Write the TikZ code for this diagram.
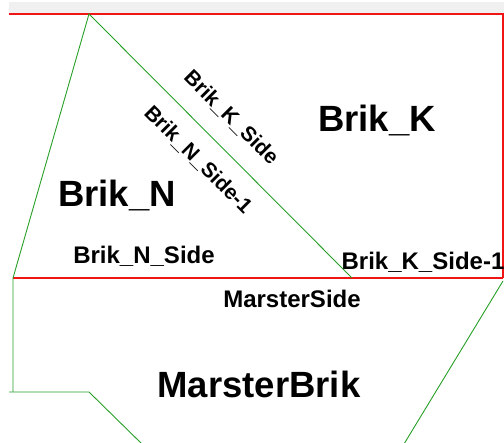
\documentclass[tikz,border=0pt]{standalone}
\usepackage{fontspec}
\setmainfont{Liberation Sans}
\definecolor{redline}{RGB}{240,20,20}
\definecolor{greenline}{RGB}{40,160,40}
\definecolor{band}{RGB}{240,240,240}
\begin{document}
\begin{tikzpicture}[x=1pt,y=-1pt,
  redl/.style={draw=redline,line width=1.4pt},
  greenl/.style={draw=greenline,line width=0.9pt},
  bigl/.style={font=\fontsize{36.5}{40}\selectfont\bfseries,inner sep=0pt},
  smalll/.style={font=\fontsize{24}{26}\selectfont\bfseries,inner sep=0pt},
  rotl/.style={font=\fontsize{21}{24}\selectfont\bfseries,inner sep=0pt,rotate=-45}]
\useasboundingbox (0,0) rectangle (504,443);
\fill[white] (0,0) rectangle (504,443);
\fill[band] (9,2) rectangle (504,13.5);
% coordinates
\coordinate (tl) at (9,14);
\coordinate (tr) at (504,14);
\coordinate (rr) at (503,14);
\coordinate (rb) at (503,278);
\coordinate (bl) at (13,278);
\coordinate (apex) at (89,14);
\coordinate (mid) at (352,278);
\coordinate (lv) at (13,392);
\coordinate (lh) at (9,392);
\coordinate (kh) at (89,392);
\coordinate (kd) at (142,444);
\coordinate (rg1) at (503,281);
\coordinate (rg2) at (404,444);
% red lines
\draw[redl] (tl) -- (tr);
\draw[redl] (rr) -- (rb);
\draw[redl] (bl) -- (rb);
% green lines
\draw[greenl] (mid) -- (apex) -- (bl) -- (lv);
\draw[greenl] (lh) -- (kh) -- (kd);
\draw[greenl] (rg1) -- (rg2);
% labels
\node[bigl] (brikk) at (377,121) {Brik\_K};
\node[bigl] (brikn) at (117,196) {Brik\_N};
\node[bigl] (marster) at (259,384) {MarsterBrik};
\node[smalll] (nside) at (144,256) {Brik\_N\_Side};
\node[smalll] (kside1) at (423,262) {Brik\_K\_Side-1};
\node[smalll] (mside) at (292,299) {MarsterSide};
\node[rotl] (kside) at (231,118) {Brik\_K\_Side};
\node[rotl] (nside1) at (198,160) {Brik\_N\_Side-1};
\end{tikzpicture}
\end{document}
